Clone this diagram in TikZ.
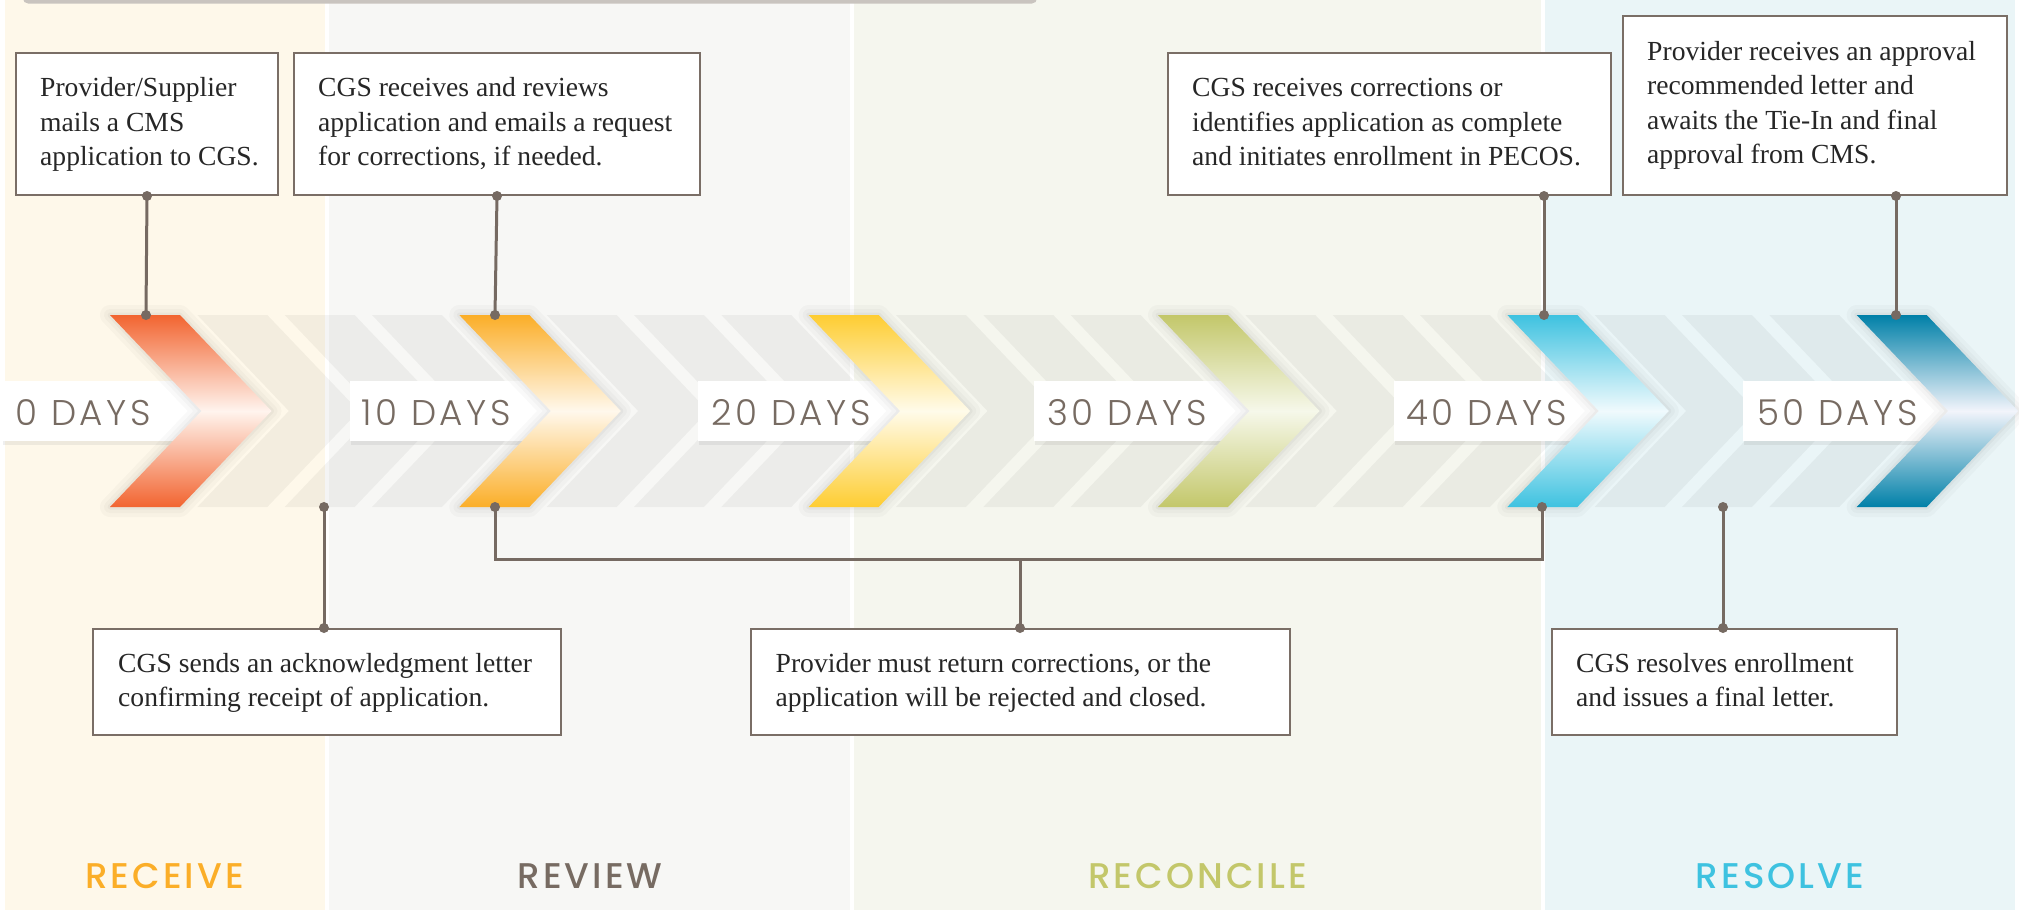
\documentclass[tikz,border=0pt]{standalone}
\usepackage{fontspec}
\setmainfont{Liberation Serif}
\newfontfamily\daysfont{Poppins Light}[LetterSpace=10]
\newfontfamily\phasefont{Poppins Medium}[LetterSpace=8.5]
\usetikzlibrary{shadows}
\definecolor{bandA}{HTML}{FEF8EA}
\definecolor{bandB}{HTML}{F7F7F5}
\definecolor{bandC}{HTML}{F5F6EE}
\definecolor{bandD}{HTML}{EAF5F7}
\definecolor{connc}{HTML}{766A62}
\definecolor{boxline}{HTML}{7A6E66}
\definecolor{txt}{HTML}{262626}
\definecolor{daycol}{HTML}{776B62}
\definecolor{reviewc}{HTML}{776B62}
\definecolor{topbar}{HTML}{C9C4BF}
\definecolor{cA}{HTML}{F26430}
\definecolor{cB}{HTML}{FBAE28}
\definecolor{cC}{HTML}{FECD32}
\definecolor{cD}{HTML}{C3C76A}
\definecolor{cE}{HTML}{3EC2E0}
\definecolor{cF}{HTML}{0080A8}
\definecolor{mA}{HTML}{FFF4EE}
\definecolor{mB}{HTML}{FFF8EC}
\definecolor{mC}{HTML}{FFFBEA}
\definecolor{mD}{HTML}{F6F8EA}
\definecolor{mE}{HTML}{F0FAFD}
\definecolor{mF}{HTML}{F2F4FB}
\newcommand\chevpath[1]{(#1,315) -- ++(70,0) -- ++(91.5,96) -- ++(-91.5,96) -- ++(-70,0) -- ++(91.5,-96) -- cycle}
\newcommand\bs{\rule{0pt}{22pt}}
\begin{document}
\begin{tikzpicture}[x=1pt,y=-1pt,
  tbox/.style={draw=boxline, line width=2pt, fill=white, inner sep=0pt, anchor=north west},
  ttext/.style={anchor=north west, inner sep=0pt, align=left, text=txt, font=\fontsize{27.6}{34.4}\selectfont},
  daybox/.style={fill=white, inner sep=0pt, anchor=north west, minimum height=60pt, drop shadow={opacity=0.12, shadow xshift=1pt, shadow yshift=-4pt}},
  daytext/.style={anchor=base west, inner sep=0pt, text=daycol, font=\daysfont\fontsize{35.7}{40}\selectfont},
  phase/.style={anchor=base, inner sep=0pt, font=\phasefont\fontsize{35.7}{40}\selectfont},
  conn/.style={draw=connc, line width=3pt},
]
\useasboundingbox (0,0) rectangle (2019,910);
\fill[white] (0,0) rectangle (2019,910);
% phase bands
\fill[bandA] (5,0) rectangle (325,910);
\fill[bandB] (329,0) rectangle (850,910);
\fill[bandC] (854,0) rectangle (1541,910);
\fill[bandD] (1545,0) rectangle (2015,910);
\fill[topbar, rounded corners=5pt] (23,-20) rectangle (1037,3.5);
% grey chevrons
\foreach \j in {1,2,3,5,6,7,9,10,11,13,14,15,17,18,19}{
  \pgfmathsetmacro\xx{110+87.33*\j}
  \fill[black, opacity=0.045] \chevpath{\xx};
}
% day label boxes
\node[daybox, minimum width=208pt] (d0) at (2,381) {};
\node[daybox, minimum width=210pt] (d1) at (349.5,381) {};
\node[daybox, minimum width=211pt] (d2) at (698,381) {};
\node[daybox, minimum width=224pt] (d3) at (1034,381) {};
\node[daybox, minimum width=213pt] (d4) at (1394,381) {};
\node[daybox, minimum width=214pt] (d5) at (1743,381) {};
\node[daytext] (d0t) at (15.6,425) {0 DAYS};
\node[daytext] (d1t) at (361.6,425) {10 DAYS};
\node[daytext] (d2t) at (711.6,425) {20 DAYS};
\node[daytext] (d3t) at (1047,425) {30 DAYS};
\node[daytext] (d4t) at (1406,425) {40 DAYS};
\node[daytext] (d5t) at (1757,425) {50 DAYS};
% coloured chevrons
\foreach \k/\c/\m in {0/cA/mA,1/cB/mB,2/cC/mC,3/cD/mD,4/cE/mE,5/cF/mF}{
  \pgfmathsetmacro\xx{110+349.33*\k}
  \draw[black, opacity=0.025, line width=20pt, line join=round] \chevpath{\xx};
  \draw[black, opacity=0.025, line width=12pt, line join=round] \chevpath{\xx};
  \draw[black, opacity=0.03, line width=5pt, line join=round] \chevpath{\xx};
  \shade[top color=\c, bottom color=\c, middle color=\m] \chevpath{\xx};
}
% text boxes
\node[tbox, minimum width=262pt, minimum height=142pt] (t1) at (15,52) {};
\node[ttext] (t1x) at (40,74.7) {\bs Provider/Supplier\\mails a CMS\\application to CGS.};
\node[tbox, minimum width=406pt, minimum height=142pt] (t2) at (293,52) {};
\node[ttext] (t2x) at (318,74.7) {\bs CGS receives and reviews\\application and emails a request\\for corrections, if needed.};
\node[tbox, minimum width=443pt, minimum height=142pt] (t3) at (1167,52) {};
\node[ttext] (t3x) at (1192,74.7) {\bs CGS receives corrections or\\identifies application as complete\\and initiates enrollment in PECOS.};
\node[tbox, minimum width=384pt, minimum height=179pt] (t4) at (1622,15) {};
\node[ttext] (t4x) at (1647,38) {\bs Provider receives an approval\\recommended letter and\\awaits the Tie-In and final\\approval from CMS.};
\node[tbox, minimum width=468pt, minimum height=106pt] (b1) at (92,628) {};
\node[ttext] (b1x) at (118,650) {\bs CGS sends an acknowledgment letter\\confirming receipt of application.};
\node[tbox, minimum width=539pt, minimum height=106pt] (b2) at (750,628) {};
\node[ttext] (b2x) at (775.5,650) {\bs Provider must return corrections, or the\\application will be rejected and closed.};
\node[tbox, minimum width=345pt, minimum height=106pt] (b3) at (1551,628) {};
\node[ttext] (b3x) at (1576,650) {\bs CGS resolves enrollment\\and issues a final letter.};
% connector end points
\coordinate (c0t) at (146,315);
\coordinate (c1t) at (495,315);
\coordinate (c4t) at (1544,315);
\coordinate (c5t) at (1896,315);
\coordinate (g2b) at (324,507);
\coordinate (c1b) at (495,507);
\coordinate (c4b) at (1542,507);
\coordinate (g18b) at (1723,507);
\coordinate (brk) at (1020,559);
% connectors
\draw[conn] (t1.south) -- (c0t);
\draw[conn] (t2.south) -- (c1t);
\draw[conn] (t3.south -| c4t) -- (c4t);
\draw[conn] (t4.south -| c5t) -- (c5t);
\draw[conn] (g2b) -- (g2b |- b1.north);
\draw[conn] (c1b) -- (c1b |- brk) -- (c4b |- brk) -- (c4b);
\draw[conn] (brk) -- (brk |- b2.north);
\draw[conn] (g18b) -- (g18b |- b3.north);
\foreach \p in {c0t,c1t,c4t,c5t,g2b,c1b,c4b,g18b}{\fill[connc] (\p) circle (5pt);}
\fill[connc] (t1.south) circle (5pt);
\fill[connc] (t2.south) circle (5pt);
\fill[connc] (t3.south -| c4t) circle (5pt);
\fill[connc] (t4.south -| c5t) circle (5pt);
\fill[connc] (g2b |- b1.north) circle (5pt);
\fill[connc] (brk |- b2.north) circle (5pt);
\fill[connc] (g18b |- b3.north) circle (5pt);
% phase labels
\node[phase, text=cB] (pA) at (164.5,888) {RECEIVE};
\node[phase, text=reviewc] (pB) at (590,888) {REVIEW};
\node[phase, text=cD] (pC) at (1197.5,888) {RECONCILE};
\node[phase, text=cE] (pD) at (1780,888) {RESOLVE};
\end{tikzpicture}
\end{document}
